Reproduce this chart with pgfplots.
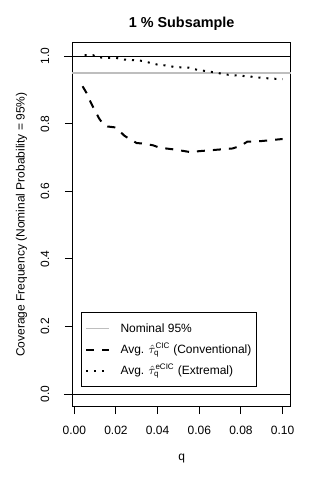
\documentclass[border=0pt]{standalone}
\usepackage{fontspec}
\setmainfont{Liberation Sans}
\usepackage{pgfplots}
\pgfplotsset{compat=1.18}
\definecolor{rgray}{RGB}{190,190,190}

\begin{document}
\begin{tikzpicture}
% page = 320x480 px, 1px = 0.75pt; axis box lower left at origin
\path[use as bounding box] (-54.2pt,-55pt) rectangle (185.8pt,305pt);
\begin{axis}[
    scale only axis,
    width=164pt,
    height=273pt,
    xmin=-0.00096, xmax=0.104,
    ymin=-0.037, ymax=1.04,
    clip=false,
    axis line style={line width=0.75pt},
    xtick={0,0.02,0.04,0.06,0.08,0.10},
    ytick={0,0.2,0.4,0.6,0.8,1.0},
    xtick pos=bottom,
    ytick pos=left,
    tick align=outside,
    major tick length=5.5pt,
    tick style={line width=0.75pt, black},
    /pgf/number format/assume math mode=true,
    xticklabel style={/pgf/number format/.cd, fixed, fixed zerofill, precision=2, /tikz/.cd,
        anchor=center, yshift=-12.2pt},
    yticklabel style={/pgf/number format/.cd, fixed, fixed zerofill, precision=1, /tikz/.cd,
        rotate=90, anchor=center, yshift=15pt},
    scaled x ticks=false,
    ticklabel style={font=\fontsize{9}{11}\selectfont},
    title={1 \% Subsample},
    title style={at={(axis description cs:0.5,1)}, anchor=center, yshift=7.9pt,
        font=\bfseries\fontsize{10.8}{13}\selectfont},
    xlabel={q},
    xlabel style={at={(axis description cs:0.5,0)}, anchor=center, yshift=-38.6pt,
        font=\fontsize{9}{11}\selectfont},
    ylabel={Coverage Frequency (Nominal Probability = 95\%)},
    ylabel style={at={(axis description cs:0,0.5)}, anchor=center, yshift=38pt,
        font=\fontsize{9}{11}\selectfont},
    legend style={at={(0.038,0.053)}, anchor=south west, draw=black, line width=0.75pt,
        font=\fontsize{9}{11}\selectfont, inner xsep=3pt, inner ysep=4pt,
        row sep=0pt,
        nodes={inner sep=1pt, text height=10pt, text depth=4pt},
        /tikz/every odd column/.append style={column sep=7pt}},
    legend cell align=left,
]
% reference lines
\addplot[black, line width=0.75pt, forget plot] coordinates {(-0.005,1) (0.104,1)};
\addplot[black, line width=0.75pt, forget plot] coordinates {(-0.005,0) (0.104,0)};
\addplot[rgray, line width=0.9pt] coordinates {(-0.00096,0.95) (0.104,0.95)};
% conventional
\addplot[black, line width=1.5pt, dash pattern=on 6pt off 6pt] coordinates {
    (0.004,0.911) (0.006,0.890) (0.008,0.862) (0.010,0.838) (0.012,0.815)
    (0.014,0.798) (0.016,0.792) (0.020,0.789) (0.022,0.777) (0.024,0.765)
    (0.027,0.753) (0.030,0.743) (0.034,0.741) (0.038,0.736) (0.041,0.729)
    (0.044,0.727) (0.048,0.724) (0.052,0.720) (0.056,0.716) (0.060,0.719)
    (0.066,0.722) (0.072,0.725) (0.076,0.727) (0.080,0.735) (0.083,0.747)
    (0.090,0.749) (0.095,0.752) (0.100,0.755)
};
% extremal
\addplot[black, line width=1.5pt, dash pattern=on 1.5pt off 4.5pt] coordinates {
    (0.005,1.003) (0.009,1.003) (0.011,0.997) (0.015,0.995) (0.020,0.995)
    (0.024,0.990) (0.029,0.988) (0.033,0.986) (0.036,0.981) (0.040,0.975)
    (0.045,0.972) (0.048,0.968) (0.055,0.966) (0.058,0.961) (0.062,0.957)
    (0.065,0.954) (0.068,0.952) (0.072,0.946) (0.076,0.944) (0.080,0.942)
    (0.084,0.940) (0.090,0.936) (0.094,0.934) (0.100,0.932)
};
\legend{Nominal 95\%,
    Avg. $\hat{\tau}_{\mathrm{q}}^{\mathrm{CIC}}$ (Conventional),
    Avg. $\hat{\tau}_{\mathrm{q}}^{\mathrm{eCIC}}$ (Extremal)}
\end{axis}
\end{tikzpicture}
\end{document}
